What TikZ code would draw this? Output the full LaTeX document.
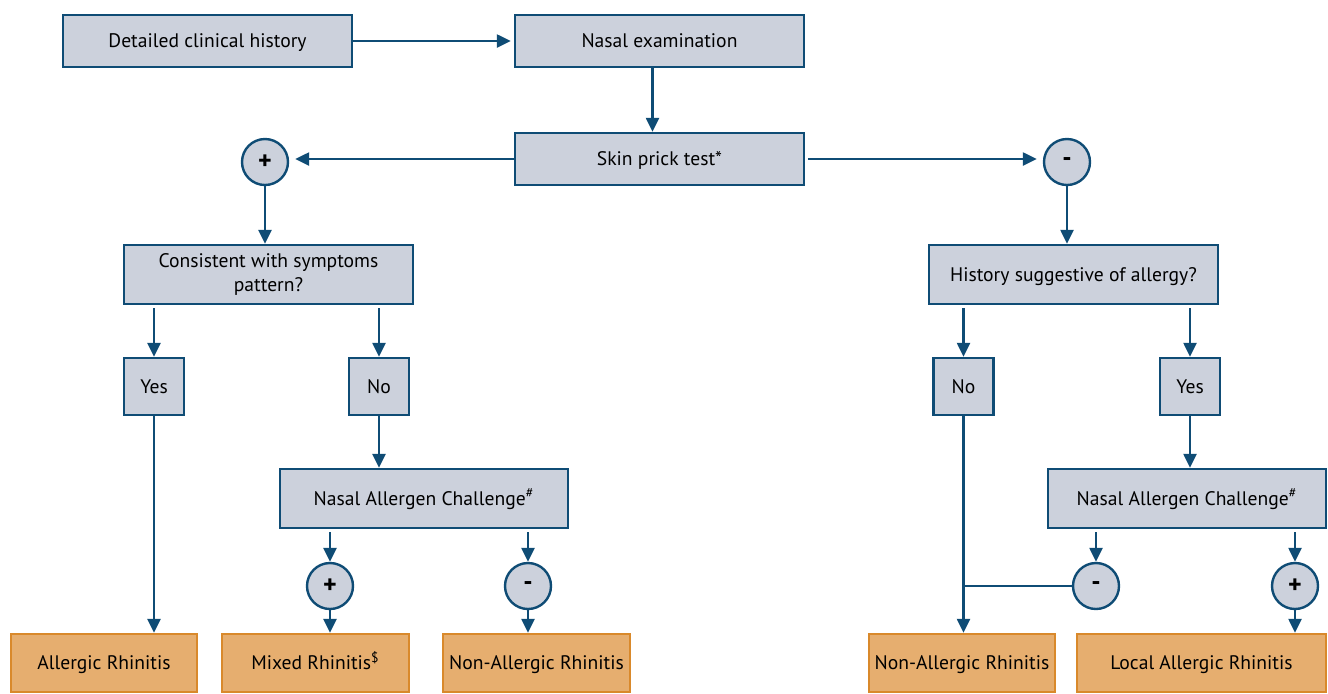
\documentclass[tikz,border=0pt]{standalone}
\usepackage{fontspec}
\setmainfont{PT Sans}
\usetikzlibrary{arrows.meta}
\definecolor{boxfill}{HTML}{CCD1DC}
\definecolor{navy}{HTML}{0F4C75}
\definecolor{orfill}{HTML}{E6AE6F}
\definecolor{ordraw}{HTML}{D9892B}
\tikzset{
  gbox/.style={draw=navy,fill=boxfill,line width=1.2pt,inner sep=2pt,align=center,text height=1.45ex,text depth=0.15ex,font=\fontsize{9.8}{12}\selectfont},
  obox/.style={draw=ordraw,fill=orfill,line width=1.2pt,inner sep=2pt,align=center,minimum height=29pt,text height=1.45ex,text depth=0.15ex,font=\fontsize{9.8}{12}\selectfont},
  sign/.style={circle,draw=navy,fill=boxfill,line width=1.2pt,minimum size=23pt,inner sep=0pt,font=\bfseries\fontsize{13}{14}\selectfont},
  arr/.style={draw=navy,line width=1.2pt,-{Triangle[length=7pt,width=6.5pt]}},
  ln/.style={draw=navy,line width=1.2pt}
}
\begin{document}
\begin{tikzpicture}[x=0.5pt,y=-0.5pt]
\useasboundingbox (0,0) rectangle (1328,693);
% top row
\node[gbox,minimum width=144.5pt,minimum height=26pt] (hist) at (207.5,41) {Detailed clinical history};
\node[gbox,minimum width=144.5pt,minimum height=26pt] (exam) at (659.5,41) {Nasal examination};
\node[gbox,minimum width=144.5pt,minimum height=26pt] (spt) at (659.5,159) {Skin prick test*};
\node[sign] (cpos) at (265,162) {+};
\node[sign] (cneg) at (1067,162) {-};
% questions
\node[gbox,text height=,text depth=,minimum width=144.5pt,minimum height=29.5pt] (cons) at (268.5,274.5) {Consistent with symptoms\\pattern?};
\node[gbox,minimum width=144.5pt,minimum height=29.5pt] (sugg) at (1073.5,274.5) {History suggestive of allergy?};
\node[gbox,minimum width=30pt,minimum height=28.5pt] (yesL) at (154,386.5) {Yes};
\node[gbox,minimum width=30pt,minimum height=28.5pt] (noL) at (379,386.5) {No};
\node[gbox,minimum width=30pt,minimum height=28.5pt] (noR) at (963.5,386.5) {No};
\node[gbox,minimum width=30pt,minimum height=28.5pt] (yesR) at (1190,386.5) {Yes};
% challenges
\node[gbox,minimum width=144pt,minimum height=29.5pt] (nacL) at (424,498.5) {Nasal Allergen Challenge\textsuperscript{\#}};
\node[gbox,minimum width=139pt,minimum height=29.5pt] (nacR) at (1187,498.5) {Nasal Allergen Challenge\textsuperscript{\#}};
\node[sign] (pL) at (330,586) {+};
\node[sign] (mL) at (528,586) {-};
\node[sign] (mR) at (1096,586) {-};
\node[sign] (pR) at (1295,586) {+};
% outcomes
\node[obox,minimum width=93pt] (ar) at (104,663) {Allergic Rhinitis};
\node[obox,minimum width=93.5pt] (mixed) at (315.5,663) {Mixed Rhinitis\textsuperscript{\$}};
\node[obox,minimum width=93.5pt] (narL) at (536.5,663) {Non-Allergic Rhinitis};
\node[obox,minimum width=93pt] (narR) at (962,663) {Non-Allergic Rhinitis};
\node[obox,minimum width=124.5pt] (lar) at (1201.5,663) {Local Allergic Rhinitis};
% connectors
\draw[arr,shorten >=1.5pt] (hist) -- (exam);
\draw[arr] ([xshift=-3.5pt]exam.south) -- ([xshift=-3.5pt]spt.north);
\draw[arr,shorten >=3pt] (spt.west) -- (spt.west -| cpos.east);
\draw[arr,shorten <=1.5pt,shorten >=3pt] (spt.east) -- (spt.east -| cneg.west);
\draw[arr] (cpos) -- (cpos |- cons.north);
\draw[arr] (cneg) -- (cneg |- sugg.north);
\foreach \a/\b in {cons/yesL,cons/noL,sugg/noR,sugg/yesR,nacL/pL,nacL/mL,nacR/mR,nacR/pR}
  \draw[arr,shorten <=1.5pt] (\b |- \a.south) -- (\b);
\draw[arr] (yesL) -- (yesL |- ar.north);
\draw[arr] (noL) -- (noL |- nacL.north);
\draw[arr] (yesR) -- (yesR |- nacR.north);
\draw[arr] (noR) -- (noR |- narR.north);
\draw[arr] (pL) -- (pL |- mixed.north);
\draw[arr] (mL) -- (mL |- narL.north);
\draw[arr] (pR) -- (pR |- lar.north);
\draw[ln] (mR) -- (mR -| noR);
\end{tikzpicture}
\end{document}
